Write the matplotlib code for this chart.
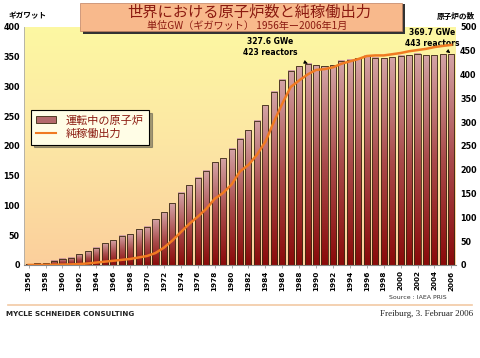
import numpy as np
import matplotlib
matplotlib.use('Agg')
import matplotlib.pyplot as plt
from matplotlib.colors import LinearSegmentedColormap
from matplotlib.lines import Line2D
from matplotlib.patches import Patch, FancyBboxPatch

plt.rcParams['font.family'] = ['Noto Sans CJK JP', 'DejaVu Sans']

# ── data ────────────────────────────────────────────────────────────────────
YEARS = list(range(1956, 2007))
REACTORS = [1, 3, 4, 9, 13, 15, 22, 29, 36, 45,
            52, 61, 65, 75, 80, 96, 111, 130, 152, 167,
            183, 198, 216, 224, 244, 265, 283, 303, 335, 364,
            389, 408, 417, 423, 419, 417, 419, 429, 431, 434,
            439, 435, 434, 436, 439, 440, 444, 440, 440, 443,
            443]
NET_GW = [0.0, 0.1, 0.2, 0.4, 0.6, 0.9, 1.5, 2.5, 4, 5.5,
          7, 8.5, 10, 12.5, 15, 20, 29, 41, 55, 69,
          81, 94, 111, 121, 135, 157, 168, 185, 207, 240,
          271, 299, 310, 320, 327.6, 329, 332, 338, 342, 346,
          351, 352, 352, 354, 356, 359, 361, 363, 366, 368,
          369.7]
XTICK_LABELS = [str(y) for y in YEARS[::2]]

BAR_CMAP = LinearSegmentedColormap.from_list(
    'bar', ['#8a0a0a', '#a94a4a', '#d4a4a6'])
BG_CMAP = LinearSegmentedColormap.from_list(
    'bg', ['#fbcf9c', '#fce6a4', '#fdf8a2'])
LINE_C = '#f07a22'
TXT_RED = '#8b1a10'

fig = plt.figure(figsize=(4.8, 3.58), dpi=100)
fig.patch.set_facecolor('white')
ax = fig.add_axes([0.05, 0.26, 0.9, 0.665])   # reactors (right labels)
ax2 = ax.twinx()                                # GW (left labels)

ax.set_xlim(YEARS[0] - 0.55, YEARS[-1] + 0.55)
ax.set_ylim(0, 500)
ax2.set_ylim(0, 400)

# background gradient
grad = np.linspace(0, 1, 256).reshape(-1, 1)
ax.imshow(grad, cmap=BG_CMAP, origin='lower', aspect='auto',
          extent=[YEARS[0] - 0.55, YEARS[-1] + 0.55, 0, 500], zorder=0)

# gradient bars
w = 0.72
for yr, n in zip(YEARS, REACTORS):
    ax.imshow(grad, cmap=BAR_CMAP, origin='lower', aspect='auto',
              extent=[yr - w / 2, yr + w / 2, 0, n], zorder=2)
ax.bar(YEARS, REACTORS, width=w, fill=False, edgecolor='#3a2a10',
       linewidth=0.6, zorder=3)

ax2.plot(YEARS, NET_GW, color=LINE_C, linewidth=1.8, zorder=4)

# axes styling
ax.yaxis.tick_right()
ax2.yaxis.tick_left()
ax.set_yticks(range(0, 501, 50))
ax2.set_yticks(range(0, 401, 50))
ax.set_xticks(YEARS[::2])
ax.set_xticklabels(XTICK_LABELS, rotation=90, fontsize=5.2,
                   fontweight='bold', family='DejaVu Sans')
for a in (ax, ax2):
    a.tick_params(axis='y', length=0, labelsize=5.8, pad=3)
    for lab in a.get_yticklabels():
        lab.set_fontweight('bold')
        lab.set_family('DejaVu Sans')
    for s in a.spines.values():
        s.set_visible(False)
ax.tick_params(axis='x', length=2, width=0.5, pad=2, color='#888888')
ax.spines['bottom'].set_visible(True)
ax.spines['bottom'].set_color('#888888')
ax.spines['left'].set_visible(True)
ax.spines['left'].set_color('#aaaaaa')
ax.spines['left'].set_linewidth(0.6)

# axis titles
fig.text(0.017, 0.955, 'ギガワット', fontsize=5.5, fontweight='bold',
         ha='left', va='center')
fig.text(0.99, 0.955, '原子炉の数', fontsize=5.5, fontweight='bold',
         ha='right', va='center')

# annotations
ax.annotate('327.6 GWe\n423 reactors', xy=(1989, 423), xytext=(1984.6, 458),
            ha='center', va='center', fontsize=5.5, fontweight='bold',
            family='DejaVu Sans', linespacing=1.3,
            arrowprops=dict(arrowstyle='-|>', color='black', lw=0.6,
                            mutation_scale=5, shrinkA=6, shrinkB=1),
            zorder=6)
ax.annotate('369.7 GWe\n443 reactors', xy=(2006, 443), xytext=(2003.7, 476),
            ha='center', va='center', fontsize=5.5, fontweight='bold',
            family='DejaVu Sans', linespacing=1.3,
            arrowprops=dict(arrowstyle='-|>', color='black', lw=0.6,
                            mutation_scale=5, shrinkA=0, shrinkB=1),
            zorder=6)

# legend
handles = [Patch(facecolor='#b46a6c', edgecolor='#3a2a10', linewidth=0.6),
           Line2D([], [], color=LINE_C, linewidth=1.5)]
leg = ax2.legend(handles, ['運転中の原子炉', '純稼働出力'],
                 loc='upper left', bbox_to_anchor=(0.003, 0.675),
                 fontsize=8, frameon=True, fancybox=False, shadow=True,
                 facecolor='#fffde6', edgecolor='black', framealpha=1,
                 handlelength=1.8, handleheight=0.6, borderpad=0.5,
                 labelspacing=0.3)
leg.get_frame().set_linewidth(0.8)
for t in leg.get_texts():
    t.set_color(TXT_RED)

# title box
shadow = FancyBboxPatch((0.172, 0.905), 0.672, 0.085, boxstyle='square,pad=0',
                        transform=fig.transFigure, facecolor='#333333',
                        edgecolor='none', zorder=9)
box = FancyBboxPatch((0.166, 0.913), 0.672, 0.079, boxstyle='square,pad=0',
                     transform=fig.transFigure, facecolor='#f8b98c',
                     edgecolor='#c08060', linewidth=0.5, zorder=10)
fig.patches.extend([shadow, box])
fig.text(0.52, 0.966, '世界における原子炉数と純稼働出力', fontsize=11,
         color=TXT_RED, ha='center', va='center', zorder=11)
fig.text(0.515, 0.927, '単位GW（ギガワット） 1956年ー2006年1月', fontsize=7.3,
         color=TXT_RED, ha='center', va='center', zorder=11)

# footer
fig.text(0.87, 0.168, 'Source : IAEA PRIS', fontsize=4.5, ha='center',
         va='center', color='#333333', family='DejaVu Sans')
fig.add_artist(Line2D([0.017, 0.983], [0.147, 0.147], color='#f2c9a4',
                      linewidth=1.2, transform=fig.transFigure))
fig.text(0.012, 0.124, 'MYCLE SCHNEIDER CONSULTING', fontsize=5.1,
         fontweight='bold', ha='left', va='center', color='#222222',
         family='DejaVu Sans')
fig.text(0.985, 0.124, 'Freiburg, 3. Februar 2006', fontsize=6.5,
         ha='right', va='center', color='#222222',
         family='Liberation Serif')

fig.savefig('out.png', dpi=100)
